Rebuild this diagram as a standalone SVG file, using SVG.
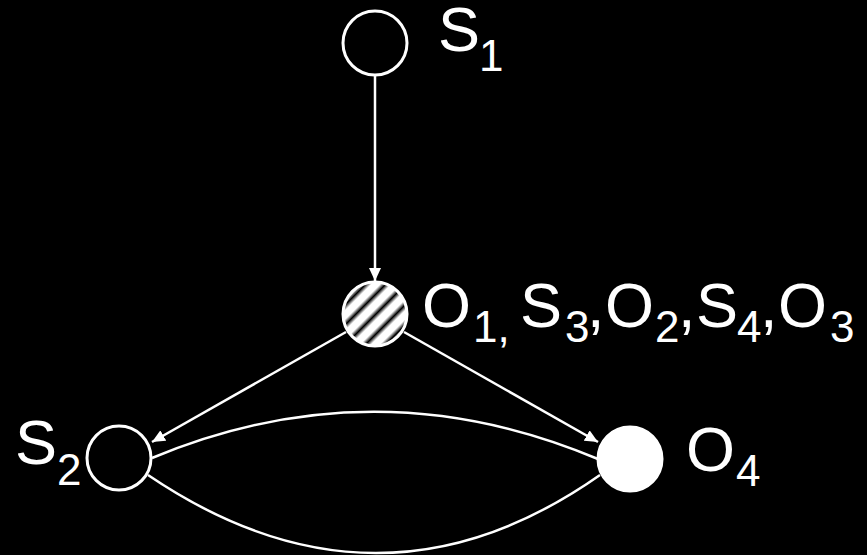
<svg xmlns="http://www.w3.org/2000/svg" width="867" height="555" viewBox="0 0 867 555">
<style>
.edge{fill:none;stroke:#fff;stroke-width:2.5}
.node{stroke:#fff;stroke-width:3}
.lbl{font-family:"Liberation Sans",Arial,sans-serif;font-size:63px;fill:#fff}
.sub{font-size:44px}
</style>
<defs>
<marker id="arr" markerWidth="13" markerHeight="12" viewBox="0 0 13 12" refX="13" refY="6" orient="auto" markerUnits="userSpaceOnUse">
<path d="M0,0 L13,6 L0,12 Z" fill="#fff"/>
</marker>
<linearGradient id="hatch" gradientUnits="userSpaceOnUse" x1="0" y1="0" x2="10" y2="10" spreadMethod="repeat">
<stop offset="0" stop-color="#fff"/>
<stop offset="0.22" stop-color="#fff"/>
<stop offset="0.5" stop-color="#000"/>
<stop offset="0.78" stop-color="#fff"/>
<stop offset="1" stop-color="#fff"/>
</linearGradient>
</defs>
<rect width="867" height="555" fill="#000"/>
<g id="connectors">
<line class="edge" x1="375" y1="75" x2="375" y2="281" marker-end="url(#arr)"/>
<line class="edge" x1="346" y1="332" x2="152" y2="442" marker-end="url(#arr)"/>
<line class="edge" x1="404" y1="332" x2="598" y2="442" marker-end="url(#arr)"/>
<path class="edge" d="M152,458 Q375,365 598,459"/>
<path class="edge" d="M148,475 Q378,631 600,475"/>
</g>
<g id="S1">
<circle class="node" cx="375" cy="43" r="32" fill="#000"/>
<text class="lbl" x="438" y="51">S<tspan class="sub" x="479" y="71">1</tspan></text>
</g>
<g id="O1">
<circle class="node" cx="375" cy="314" r="32" fill="url(#hatch)"/>
<text class="lbl" y="327"><tspan x="422">O</tspan><tspan class="sub" x="473" y="342">1,</tspan><tspan x="520" y="327">S</tspan><tspan class="sub" x="565" y="342">3</tspan><tspan x="587" y="327">,</tspan><tspan x="605">O</tspan><tspan class="sub" x="655" y="342">2</tspan><tspan x="678" y="327">,</tspan><tspan x="696">S</tspan><tspan class="sub" x="737" y="342">4</tspan><tspan x="760" y="327">,</tspan><tspan x="778">O</tspan><tspan class="sub" x="830" y="342">3</tspan></text>
</g>
<g id="S2">
<circle class="node" cx="119" cy="458" r="32" fill="#000"/>
<text class="lbl" x="15" y="464">S<tspan class="sub" x="57" y="485">2</tspan></text>
</g>
<g id="O4">
<circle class="node" cx="630" cy="459" r="32" fill="#fff"/>
<text class="lbl" x="686" y="471">O<tspan class="sub" x="736" y="486">4</tspan></text>
</g>
</svg>
